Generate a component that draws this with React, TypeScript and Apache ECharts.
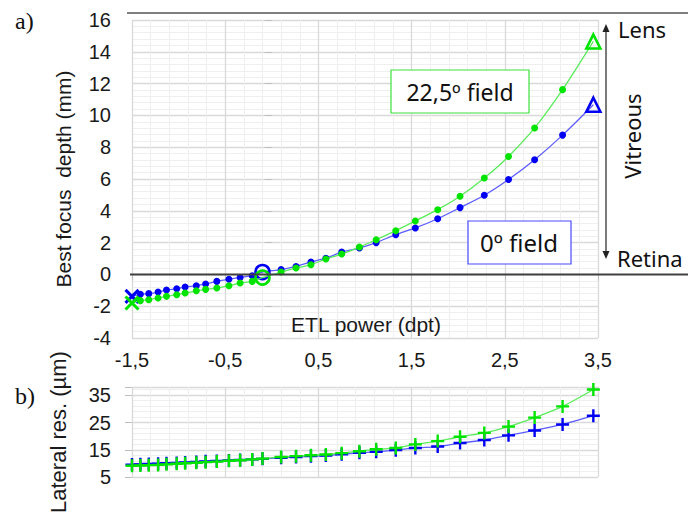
import React, { useEffect, useRef } from "react";
import * as echarts from "echarts";

// ETL power (dpt) of each measurement
const etlPower = [-1.5, -1.41, -1.32, -1.22, -1.13, -1.02, -0.93, -0.81, -0.71, -0.59, -0.46, -0.34, -0.21, -0.1, 0.1, 0.26, 0.42, 0.58, 0.75, 0.94, 1.12, 1.33, 1.54, 1.78, 2.02, 2.28, 2.54, 2.82, 3.12, 3.45];
// a) Best focus depth (mm)
const depth0 = [-1.38, -1.25, -1.21, -1.11, -0.98, -0.9, -0.79, -0.71, -0.6, -0.44, -0.31, -0.19, -0.08, 0.15, 0.3, 0.5, 0.78, 1.02, 1.4, 1.66, 2.0, 2.5, 2.92, 3.5, 4.2, 4.98, 5.97, 7.21, 8.76, 10.67];
const depth225 = [-1.8, -1.65, -1.59, -1.48, -1.38, -1.28, -1.17, -1.03, -0.94, -0.86, -0.71, -0.54, -0.44, -0.2, 0.15, 0.4, 0.61, 0.97, 1.28, 1.72, 2.18, 2.75, 3.36, 4.07, 4.91, 6.06, 7.42, 9.21, 11.62, 14.65];
// b) Lateral resolution (µm)
const lat0 = [9.6, 9.7, 9.8, 9.9, 10.1, 10.2, 10.4, 10.6, 10.8, 10.9, 11.1, 11.3, 11.5, 11.7, 12.1, 12.4, 12.7, 12.9, 13.4, 13.9, 14.3, 14.9, 15.7, 16.2, 17.5, 18.6, 20.3, 22.1, 24.3, 27.5];
const lat225 = [9.2, 9.3, 9.4, 9.5, 9.7, 9.9, 10.1, 10.3, 10.5, 10.7, 11.0, 11.2, 11.5, 11.8, 12.4, 12.7, 13.0, 13.3, 13.8, 14.5, 15.2, 15.7, 17.0, 18.2, 19.8, 21.2, 23.5, 26.8, 30.9, 37.1];

const seriesNames = ["0º field", "22,5º field"];
const yTitleTop = "Best focus  depth (mm)";
const yTitleBottom = "Lateral res. (µm)";
const xTitle = "ETL power (dpt)";

const BLUE = "#0000f2";
const BLUE_LINE = "#5d5dff";
const GREEN = "#00e400";
const GREEN_LINE = "#5aec5a";

const X_PATH = "path://M0,0L10,10M10,0L0,10";
const PLUS_PATH = "path://M5,0L5,10M0,5L10,5";
const SANS = "'Liberation Sans', Arial, sans-serif";
const UI = "'Noto Sans', 'Open Sans', sans-serif";

const zeroIdx = etlPower.indexOf(-0.1);

function topData(ys: number[], color: string) {
  return etlPower.map((x, i) => {
    const last = i === etlPower.length - 1;
    if (i === 0)
      return { value: [x, ys[i]], symbol: X_PATH, symbolSize: 13, itemStyle: { color, borderColor: color, borderWidth: 3 } };
    if (i === zeroIdx)
      return { value: [x, ys[i]], symbol: "circle", symbolSize: 14, itemStyle: { color: "rgba(0,0,0,0)", borderColor: color, borderWidth: 2.6 } };
    if (last)
      return { value: [x, ys[i]], symbol: "triangle", symbolSize: 14, itemStyle: { color: "rgba(0,0,0,0)", borderColor: color, borderWidth: 2.6 } };
    return { value: [x, ys[i]], symbol: "circle", symbolSize: 7, itemStyle: { color } };
  });
}

function bottomData(ys: number[], color: string) {
  return etlPower.map((x, i) => ({
    value: [x, ys[i]],
    symbol: PLUS_PATH,
    symbolSize: 13,
    itemStyle: { color, borderColor: color, borderWidth: 2.4 },
  }));
}

const majorGrid = { show: true, lineStyle: { color: "#d9d9d9", width: 1.3 } };
const minorGrid = { show: true, lineStyle: { color: "#efefef", width: 1 } };

export default function App() {
  const ref = useRef<HTMLDivElement>(null);
  useEffect(() => {
    if (!ref.current) return;
    const chart = echarts.init(ref.current, null, { renderer: "svg" });
    chart.setOption({
      animation: false,
      backgroundColor: "#ffffff",
      grid: [
        { left: 132, top: 20, width: 466, height: 318 },
        { left: 132, top: 387, width: 466, height: 118 },
      ],
      xAxis: [
        {
          type: "value", gridIndex: 0, min: -1.5, max: 3.5, interval: 1,
          axisLine: { show: false },
          axisTick: { show: true, length: 6, lineStyle: { color: "#bfbfbf" } },
          minorTick: { show: false, splitNumber: 5 },
          axisLabel: { fontSize: 20, color: "#1a1a1a", fontFamily: SANS, margin: 12, formatter: (v: number) => v.toFixed(1).replace(".", ",") },
          splitLine: majorGrid,
          minorSplitLine: minorGrid,
        },
        {
          type: "value", gridIndex: 1, min: -1.5, max: 3.5, interval: 1,
          axisLine: { show: false }, axisTick: { show: false }, axisLabel: { show: false },
          minorTick: { show: false, splitNumber: 5 },
          splitLine: majorGrid, minorSplitLine: minorGrid,
        },
      ],
      yAxis: [
        {
          type: "value", gridIndex: 0, min: -4, max: 16, interval: 2,
          axisLine: { show: false },
          axisTick: { show: true, length: 7, lineStyle: { color: "#bfbfbf" } },
          minorTick: { show: false, splitNumber: 5 },
          axisLabel: { fontSize: 20, color: "#1a1a1a", fontFamily: SANS, margin: 21 },
          splitLine: majorGrid, minorSplitLine: minorGrid,
          name: yTitleTop, nameLocation: "middle", nameRotate: 90, nameGap: 58,
          nameTextStyle: { fontSize: 21, color: "#1a1a1a", fontFamily: SANS },
        },
        {
          type: "value", gridIndex: 1, min: 5, max: 38, interval: 2, position: "right",
          axisLine: { show: false }, axisTick: { show: false }, axisLabel: { show: false },
          splitLine: minorGrid,
        },
        {
          type: "value", gridIndex: 1, min: 5, max: 38, interval: 10, position: "left",
          axisLine: { show: false },
          axisTick: { show: true, length: 7, lineStyle: { color: "#bfbfbf" } },
          axisLabel: { fontSize: 20, color: "#1a1a1a", fontFamily: SANS, margin: 21, formatter: (v: number) => ((v - 5) % 10 === 0 ? String(v) : "") },
          splitLine: majorGrid,
          name: yTitleBottom, nameLocation: "middle", nameRotate: 90, nameGap: 63,
          nameTextStyle: { fontSize: 22, color: "#1a1a1a", fontFamily: SANS },
        },
      ],
      series: [
        { name: seriesNames[0], type: "line", xAxisIndex: 0, yAxisIndex: 0, smooth: 0.3, z: 3, lineStyle: { color: BLUE_LINE, width: 1.3 }, data: topData(depth0, BLUE) },
        { name: seriesNames[1], type: "line", xAxisIndex: 0, yAxisIndex: 0, smooth: 0.3, z: 4, lineStyle: { color: GREEN_LINE, width: 1.3 }, data: topData(depth225, GREEN) },
        { name: seriesNames[0], type: "line", xAxisIndex: 1, yAxisIndex: 2, smooth: 0.3, z: 3, lineStyle: { color: BLUE_LINE, width: 1.3 }, data: bottomData(lat0, BLUE) },
        { name: seriesNames[1], type: "line", xAxisIndex: 1, yAxisIndex: 2, smooth: 0.3, z: 4, lineStyle: { color: GREEN_LINE, width: 1.3 }, data: bottomData(lat225, GREEN) },
      ],
    });
    const p0 = chart.convertToPixel({ xAxisIndex: 0, yAxisIndex: 0 }, [-1.5, 0]) as number[];
    const y0 = p0[1];
    const gx = p0[0];
    const txt = (text: string, x: number, y: number, size: number, font: string, extra: any = {}) => ({
      type: "text", z: 20, x, y,
      style: { text, fill: "#111", font: `${size}px ${font}`, textAlign: "left", textVerticalAlign: "middle", ...extra },
    });
    chart.setOption({
      graphic: [
        { type: "line", z: 20, shape: { x1: gx - 5, y1: 13, x2: 688, y2: 13 }, style: { stroke: "#555", lineWidth: 1.5 } },
        { type: "line", z: 20, shape: { x1: gx - 2, y1: y0, x2: 688, y2: y0 }, style: { stroke: "#404040", lineWidth: 2 } },
        txt("a)", 15, 21, 24, "'Liberation Serif', 'DejaVu Serif', serif"),
        txt("b)", 15, 396, 24, "'Liberation Serif', 'DejaVu Serif', serif"),
        txt(xTitle, 366, 324, 21, SANS, { textAlign: "center", fill: "#1a1a1a" }),
        { type: "rect", z: 20, shape: { x: 391, y: 70, width: 138, height: 43 }, style: { fill: "#fff", stroke: "#3ee03e", lineWidth: 1.2 } },
        txt("22,5º field", 460, 92, 23, UI, { textAlign: "center" }),
        { type: "rect", z: 20, shape: { x: 468, y: 221, width: 103, height: 43 }, style: { fill: "#fff", stroke: "#4a4aff", lineWidth: 1.2 } },
        txt("0º field", 519, 242, 24, UI, { textAlign: "center" }),
        { type: "line", z: 20, shape: { x1: 606, y1: 30, x2: 606, y2: 252 }, style: { stroke: "#333", lineWidth: 1.3 } },
        { type: "polygon", z: 20, shape: { points: [[606, 24], [602.5, 32], [609.5, 32]] }, style: { fill: "#222" } },
        { type: "polygon", z: 20, shape: { points: [[606, 259], [602.5, 251], [609.5, 251]] }, style: { fill: "#222" } },
        txt("Lens", 618, 29, 22, UI),
        txt("Retina", 617, 258, 22, UI),
        { type: "text", z: 20, x: 632, y: 136, rotation: Math.PI / 2,
          style: { text: "Vitreous", fill: "#111", font: `22px ${UI}`, textAlign: "center", textVerticalAlign: "middle" } },
      ],
    });
    return () => chart.dispose();
  }, []);
  return <div ref={ref} style={{ position: "fixed", left: 0, top: 0, width: 688, height: 516, background: "#fff" }} />;
}
